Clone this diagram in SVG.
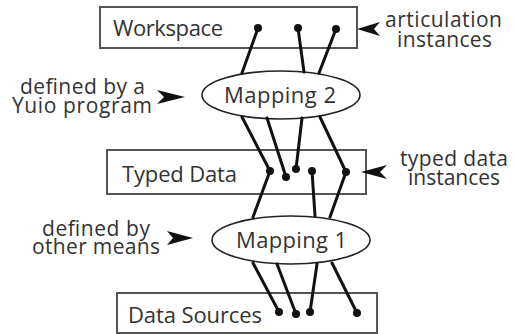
<svg xmlns="http://www.w3.org/2000/svg" width="516" height="334" viewBox="0 0 516 334">
<style>
.box{fill:#fff;stroke:#555;stroke-width:2}
.ell{fill:#fff;stroke:#222;stroke-width:1.6}
.t{font-family:"Open Sans","Liberation Sans",sans-serif;font-size:22px;fill:#333}
.s{font-family:"Open Sans","Liberation Sans",sans-serif;font-size:21px;fill:#333}
.c{stroke:#111;stroke-width:3;fill:none;stroke-linecap:round}
.dot{fill:#111}
.arr{fill:#111}
</style>
<rect width="516" height="334" fill="#fff"/>
<g id="workspace">
<rect class="box" x="100" y="7" width="257" height="41"/>
<text class="t" x="113" y="36" textLength="110">Workspace</text>
</g>
<g id="typed-data">
<rect class="box" x="107" y="150" width="259" height="44"/>
<text class="t" x="122" y="182" textLength="115">Typed Data</text>
</g>
<g id="data-sources">
<rect class="box" x="117" y="293" width="260" height="40"/>
<text class="t" x="128" y="323" textLength="134">Data Sources</text>
</g>
<g id="mapping2">
<ellipse class="ell" cx="281" cy="95" rx="79" ry="24"/>
<text class="t" x="224" y="103" textLength="112">Mapping 2</text>
</g>
<g id="mapping1">
<ellipse class="ell" cx="291" cy="240" rx="79" ry="24"/>
<text class="t" x="236" y="248" textLength="111">Mapping 1</text>
</g>
<g id="connectors">
<path class="c" d="M258 28L242 73M298 28L304 72M336 29L319 73"/>
<path class="c" d="M242 117L270 171M267 118L286 177M302 118L296 169M320 117L346 172"/>
<path class="c" d="M270 171L253 217M312 171L315 216M346 172L330 217"/>
<path class="c" d="M253 263L279 312M277 264L296 314M317 264L310 312M332 263L357 313"/>
<g class="dot">
<circle cx="258" cy="28" r="4"/><circle cx="298" cy="28" r="4"/><circle cx="336" cy="29" r="4"/>
<circle cx="270" cy="171" r="4"/><circle cx="286" cy="177" r="4"/><circle cx="296" cy="169" r="4"/><circle cx="312" cy="171" r="4"/><circle cx="346" cy="172" r="4"/>
<circle cx="279" cy="312" r="4"/><circle cx="296" cy="314" r="4"/><circle cx="310" cy="312" r="4"/><circle cx="357" cy="313" r="4"/>
</g>
</g>
<g id="labels">
<text class="s" x="20" y="94" textLength="125">defined by a</text>
<text class="s" x="12" y="113" textLength="140">Yuio program</text>
<path class="arr" d="M185 97L157 90L164 97L157 104Z"/>
<text class="s" x="42" y="236" textLength="108">defined by</text>
<text class="s" x="32" y="254" textLength="128">other means</text>
<path class="arr" d="M193 238L167 231L173 238L167 245Z"/>
<text class="s" x="385" y="27" textLength="117">articulation</text>
<text class="s" x="397" y="47" textLength="95">instances</text>
<path class="arr" d="M357 29L380 22L374 29L380 36Z"/>
<text class="s" x="400" y="166" textLength="108">typed data</text>
<text class="s" x="408" y="185" textLength="92">instances</text>
<path class="arr" d="M361 172L387 165L380 172L387 179Z"/>
</g>
</svg>
